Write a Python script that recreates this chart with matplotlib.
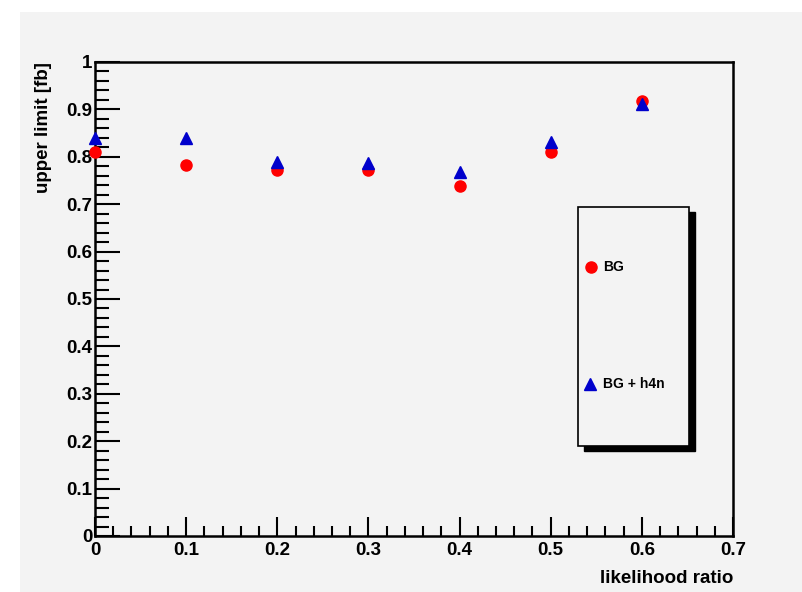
import numpy as np
import matplotlib.pyplot as plt
from matplotlib.patches import Rectangle
from matplotlib.ticker import MultipleLocator, FormatStrFormatter

plt.rcParams['font.family'] = ['Liberation Sans', 'DejaVu Sans']
plt.rcParams['font.weight'] = 'bold'

lr_cut = [0.0, 0.1, 0.2, 0.3, 0.4, 0.5, 0.6]
limit_bg = [0.810, 0.782, 0.772, 0.772, 0.738, 0.810, 0.917]
limit_bg_h4n = [0.840, 0.840, 0.789, 0.787, 0.768, 0.831, 0.911]

bg_grey = '#f3f3f3'

fig = plt.figure(figsize=(8.02, 5.92), dpi=100, facecolor='white')
# grey canvas, leaving a thin white strip on the left and top
fig.patches.append(Rectangle((20 / 802, 0), 1, (592 - 12) / 592,
                             transform=fig.transFigure, facecolor=bg_grey,
                             edgecolor='none', zorder=-10))

ax = fig.add_axes([95 / 802, 56 / 592, 638 / 802, 474 / 592])
ax.set_facecolor(bg_grey)

ax.plot(lr_cut, limit_bg, 'o', color='red', markersize=8, zorder=3,
        clip_on=False)
ax.plot(lr_cut, limit_bg_h4n, '^', color='#0000cc', markersize=8, zorder=3,
        clip_on=False)

ax.set_xlim(0, 0.7)
ax.set_ylim(0, 1)

for s in ax.spines.values():
    s.set_linewidth(1.8)

ax.xaxis.set_major_locator(MultipleLocator(0.1))
ax.xaxis.set_minor_locator(MultipleLocator(0.02))
ax.yaxis.set_major_locator(MultipleLocator(0.1))
ax.yaxis.set_minor_locator(MultipleLocator(0.02))
ax.xaxis.set_major_formatter(FormatStrFormatter('%g'))
ax.yaxis.set_major_formatter(FormatStrFormatter('%g'))

ax.tick_params(axis='x', which='major', direction='in', length=14, width=1.5,
               labelsize=13.5, pad=4)
ax.tick_params(axis='x', which='minor', direction='in', length=7, width=1.5)
ax.tick_params(axis='y', which='major', direction='in', length=18, width=1.5,
               labelsize=13.5, pad=2)
ax.tick_params(axis='y', which='minor', direction='in', length=10, width=1.5)

ax.set_xlabel('likelihood ratio', fontsize=13.5, fontweight='bold')
ax.xaxis.set_label_coords(1.0, -0.072)
ax.xaxis.label.set_horizontalalignment('right')
ax.set_ylabel('upper limit [fb]', fontsize=13.5, fontweight='bold')
ax.yaxis.set_label_coords(-0.068, 1.0)
ax.yaxis.label.set_horizontalalignment('right')

# legend box with a drop shadow
bx, by, bw, bh = 0.757, 0.190, 0.174, 0.504
ax.add_patch(Rectangle((bx + 0.009, by - 0.011), bw, bh, transform=ax.transAxes,
                       facecolor='black', edgecolor='black', zorder=4,
                       clip_on=False))
ax.add_patch(Rectangle((bx, by), bw, bh, transform=ax.transAxes,
                       facecolor=bg_grey, edgecolor='black', linewidth=1.2,
                       zorder=5, clip_on=False))
ax.plot([0.777], [0.5675], 'o', color='red', markersize=8,
        transform=ax.transAxes, zorder=6, clip_on=False)
ax.text(0.797, 0.5675, 'BG', transform=ax.transAxes, fontsize=10,
        fontweight='bold', va='center', zorder=6)
ax.plot([0.776], [0.321], '^', color='#0000cc', markersize=8,
        transform=ax.transAxes, zorder=6, clip_on=False)
ax.text(0.797, 0.321, 'BG + h4n', transform=ax.transAxes, fontsize=10,
        fontweight='bold', va='center', zorder=6)

fig.savefig('out.png', dpi=100, facecolor=fig.get_facecolor())
